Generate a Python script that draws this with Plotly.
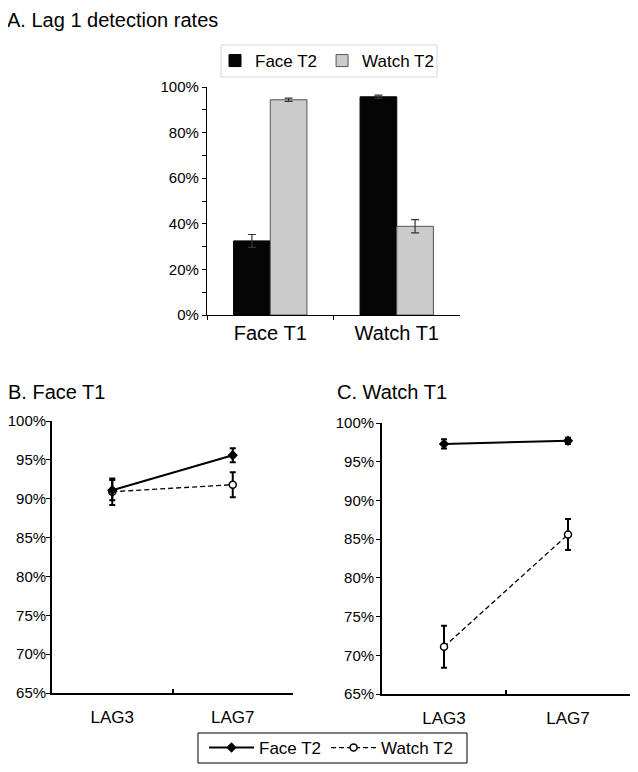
import plotly.graph_objects as go

# ---- data ----
lag1_conditions = ["Face T1", "Watch T1"]
lag1_face_t2 = [0.325, 0.957]
lag1_face_t2_err = [0.028, 0.007]
lag1_watch_t2 = [0.944, 0.389]
lag1_watch_t2_err = [0.007, 0.029]

lags = ["LAG3", "LAG7"]
faceT1_face_t2 = [0.911, 0.956]
faceT1_face_t2_err = [0.013, 0.009]
faceT1_watch_t2 = [0.909, 0.918]
faceT1_watch_t2_err = [0.017, 0.016]
watchT1_face_t2 = [0.973, 0.977]
watchT1_face_t2_err = [0.006, 0.004]
watchT1_watch_t2 = [0.711, 0.856]
watchT1_watch_t2_err = [0.027, 0.020]

PAGE_MARGIN = 8
W, H = 638 - 2 * PAGE_MARGIN, 772 - 2 * PAGE_MARGIN
FONT = "Liberation Sans, Arial, sans-serif"

def fx(px):
    return (px - PAGE_MARGIN) / W

def fy(py):
    return 1 - (py - PAGE_MARGIN) / H

fig = go.Figure()

fig.add_trace(go.Bar(
    x=lag1_conditions, y=lag1_face_t2, name="Face T2",
    marker=dict(color="#050505", line=dict(color="#000000", width=1)),
    error_y=dict(type="data", array=lag1_face_t2_err, color="#333333", thickness=1.2, width=4),
    xaxis="x", yaxis="y", legend="legend",
))
fig.add_trace(go.Bar(
    x=lag1_conditions, y=lag1_watch_t2, name="Watch T2",
    marker=dict(color="#cbcbcb", line=dict(color="#555555", width=1)),
    error_y=dict(type="data", array=lag1_watch_t2_err, color="#333333", thickness=1.2, width=4),
    xaxis="x", yaxis="y", legend="legend",
))

def line_traces(xa, ya, face, face_err, watch, watch_err, show):
    fig.add_trace(go.Scatter(
        x=lags, y=watch, name="Watch T2", mode="lines+markers",
        line=dict(color="black", width=1.3, dash="5px,3px"),
        marker=dict(symbol="circle", size=7, color="white", line=dict(color="black", width=1.5)),
        error_y=dict(type="data", array=watch_err, color="black", thickness=2, width=3),
        xaxis=xa, yaxis=ya, legend="legend2", showlegend=show, legendrank=2,
    ))
    fig.add_trace(go.Scatter(
        x=lags, y=face, name="Face T2", mode="lines+markers",
        line=dict(color="black", width=2),
        marker=dict(symbol="diamond", size=8, color="black"),
        error_y=dict(type="data", array=face_err, color="black", thickness=2, width=3),
        xaxis=xa, yaxis=ya, legend="legend2", showlegend=show, legendrank=1,
    ))

line_traces("x2", "y2", faceT1_face_t2, faceT1_face_t2_err, faceT1_watch_t2, faceT1_watch_t2_err, True)
line_traces("x3", "y3", watchT1_face_t2, watchT1_face_t2_err, watchT1_watch_t2, watchT1_watch_t2_err, False)

yline = dict(showline=True, linecolor="black", showgrid=False, zeroline=False,
             ticks="outside", ticklen=4, tickcolor="black", tickformat=".0%",
             tickfont=dict(family=FONT, size=15, color="black"))

# legend frames
shapes = [
    dict(type="rect", xref="paper", yref="paper", layer="below",
         x0=fx(221), x1=fx(437), y0=fy(77), y1=fy(45),
         line=dict(color="#d6d6d6", width=1), fillcolor="white"),
    dict(type="rect", xref="paper", yref="paper", layer="below",
         x0=fx(198), x1=fx(467), y0=fy(763), y1=fy(733),
         line=dict(color="black", width=1), fillcolor="white"),
]

fig.update_layout(
    width=W, height=H,
    margin=dict(l=0, r=0, t=0, b=0, autoexpand=False),
    paper_bgcolor="white", plot_bgcolor="white",
    font=dict(family=FONT, color="black"),
    barmode="group", bargap=0.42, bargroupgap=0,
    shapes=shapes,
    xaxis=dict(domain=[fx(207), fx(460)], anchor="y", type="category",
               range=[-0.5, 1.5], showline=True, linecolor="black", linewidth=1.2,
               ticks="outside", ticklen=4, tickson="boundaries", tickcolor="black",
               tickfont=dict(family=FONT, size=20, color="black"), showgrid=False),
    yaxis=dict(domain=[fy(315), fy(87)], anchor="x", range=[0, 1.0], dtick=0.2,
               linewidth=1.2, minor=dict(ticks="outside", dtick=0.1, ticklen=4, tickcolor="black"),
               **yline),
    xaxis2=dict(domain=[fx(52), fx(293)], anchor="y2", type="category",
                range=[-0.5, 1.5], showline=True, linecolor="black", linewidth=1.8,
                ticks="inside", ticklen=4, tickson="boundaries", tickcolor="black",
                tickwidth=1.5, ticklabelstandoff=8,
                tickfont=dict(family=FONT, size=17, color="black"), showgrid=False),
    yaxis2=dict(domain=[fy(693), fy(421)], anchor="x2", range=[0.65, 1.0], dtick=0.05,
                linewidth=1.8, ticklabelstandoff=-3, **yline),
    xaxis3=dict(domain=[fx(382), fx(630)], anchor="y3", type="category",
                range=[-0.5, 1.5], showline=True, linecolor="black", linewidth=1.8,
                ticks="inside", ticklen=4, tickson="boundaries", tickcolor="black",
                tickwidth=1.5, ticklabelstandoff=8,
                tickfont=dict(family=FONT, size=17, color="black"), showgrid=False),
    yaxis3=dict(domain=[fy(694), fy(423)], anchor="x3", range=[0.65, 1.0], dtick=0.05,
                linewidth=1.8, ticklabelstandoff=-1, **yline),
    legend=dict(orientation="h", x=fx(215), y=fy(61), xanchor="left", yanchor="middle",
                borderwidth=0, bgcolor="rgba(0,0,0,0)",
                font=dict(family=FONT, size=17, color="black"), traceorder="normal"),
    legend2=dict(orientation="h", x=fx(204), y=fy(748), xanchor="left", yanchor="middle",
                 borderwidth=0, bgcolor="rgba(0,0,0,0)",
                 font=dict(family=FONT, size=17, color="black"), traceorder="normal",
                 itemwidth=45),
    annotations=[
        dict(text="A. Lag 1 detection rates", x=fx(6), y=fy(8), xref="paper", yref="paper",
             xanchor="left", yanchor="top", showarrow=False, borderpad=0,
             font=dict(family=FONT, size=20, color="black")),
        dict(text="B. Face T1", x=fx(6), y=fy(392), xref="paper", yref="paper",
             xanchor="left", yanchor="middle", showarrow=False,
             font=dict(family=FONT, size=20, color="black")),
        dict(text="C. Watch T1", x=fx(335), y=fy(392), xref="paper", yref="paper",
             xanchor="left", yanchor="middle", showarrow=False,
             font=dict(family=FONT, size=20, color="black")),
    ],
)

fig.write_html("out.html")
